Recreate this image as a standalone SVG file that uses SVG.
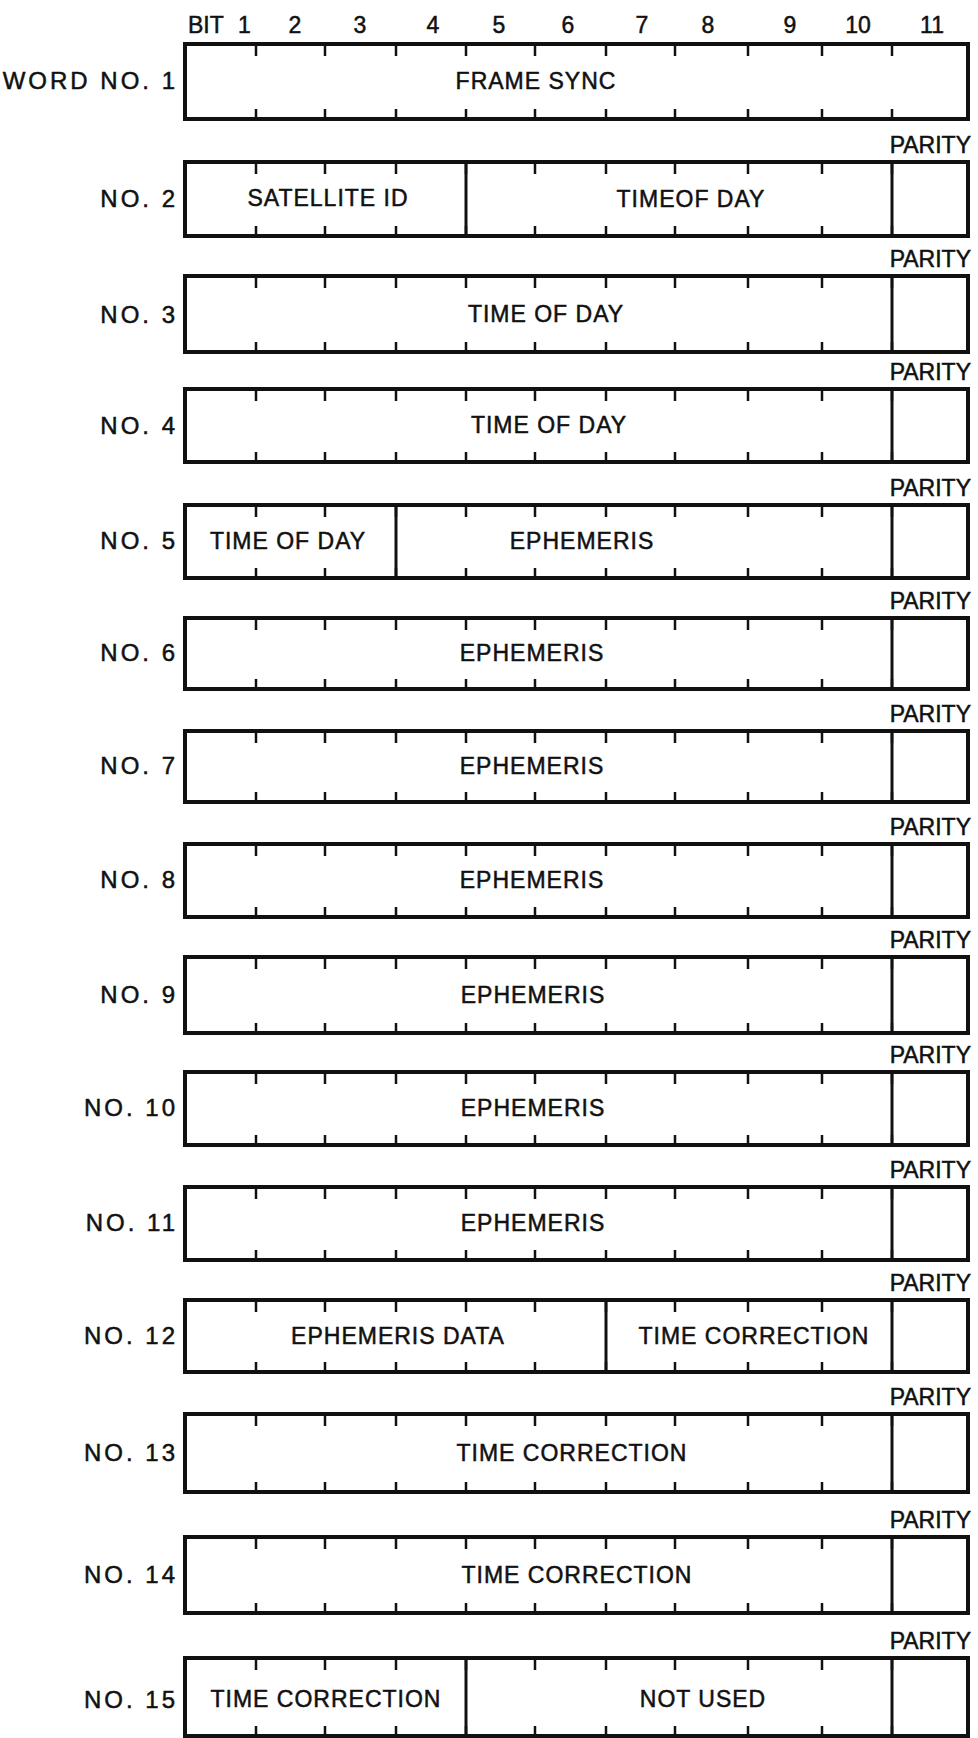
<svg xmlns="http://www.w3.org/2000/svg" width="978" height="1738" viewBox="0 0 978 1738">
<style>
.box{fill:none;stroke:#111;stroke-width:4;stroke-linejoin:miter}
.div{stroke:#111;stroke-width:3}
.tk{fill:none;stroke:#111;stroke-width:2.5}
text{font-family:"Liberation Sans",Arial,sans-serif;fill:#111;stroke:#111;stroke-width:0.5}
.t{font-size:23px;letter-spacing:1px;text-anchor:middle}
.lbl{font-size:24px;letter-spacing:3px;text-anchor:end}
.par{font-size:23px;text-anchor:end}
.bit{font-size:23px;text-anchor:middle}
</style>
<defs>
<path id="tt" class="tk" d="M256 0v12M325 0v12M396 0v12M466 0v12M535 0v12M606 0v12M675 0v12M748 0v12M822 0v12M892 0v12"/>
<path id="bt" class="tk" d="M256 0v-10M325 0v-10M396 0v-10M466 0v-10M535 0v-10M606 0v-10M675 0v-10M748 0v-10M822 0v-10M892 0v-10"/>
</defs>
<rect width="978" height="1738" fill="#fff"/>
<g id="bit-header">
<text class="bit" x="188" y="33" style="text-anchor:start">BIT <tspan x="238">1</tspan></text>
<text class="bit" x="295" y="33">2</text>
<text class="bit" x="360" y="33">3</text>
<text class="bit" x="433" y="33">4</text>
<text class="bit" x="499" y="33">5</text>
<text class="bit" x="568" y="33">6</text>
<text class="bit" x="642" y="33">7</text>
<text class="bit" x="708" y="33">8</text>
<text class="bit" x="790" y="33">9</text>
<text class="bit" x="858" y="33">10</text>
<text class="bit" x="932" y="33">11</text>
</g>
<g id="word1">
<rect class="box" x="185" y="44" width="783" height="75"/>
<use href="#tt" y="44"/><use href="#bt" y="119"/>
<text class="lbl" x="178" y="89">WORD NO. 1</text>
<text class="t" x="536" y="89">FRAME SYNC</text>
</g>
<g id="word2">
<text class="par" x="971" y="153">PARITY</text>
<rect class="box" x="185" y="162" width="783" height="74"/>
<use href="#tt" y="162"/><use href="#bt" y="236"/>
<line class="div" x1="466" y1="162" x2="466" y2="236"/>
<line class="div" x1="892" y1="162" x2="892" y2="236"/>
<text class="lbl" x="178" y="207">NO. 2</text>
<text class="t" x="328" y="206">SATELLITE ID</text>
<text class="t" x="691" y="207">TIMEOF DAY</text>
</g>
<g id="word3">
<text class="par" x="971" y="267">PARITY</text>
<rect class="box" x="185" y="276" width="783" height="76"/>
<use href="#tt" y="276"/><use href="#bt" y="352"/>
<line class="div" x1="892" y1="276" x2="892" y2="352"/>
<text class="lbl" x="178" y="323">NO. 3</text>
<text class="t" x="546" y="322">TIME OF DAY</text>
</g>
<g id="word4">
<text class="par" x="971" y="380">PARITY</text>
<rect class="box" x="185" y="389" width="783" height="73"/>
<use href="#tt" y="389"/><use href="#bt" y="462"/>
<line class="div" x1="892" y1="389" x2="892" y2="462"/>
<text class="lbl" x="178" y="434">NO. 4</text>
<text class="t" x="549" y="433">TIME OF DAY</text>
</g>
<g id="word5">
<text class="par" x="971" y="496">PARITY</text>
<rect class="box" x="185" y="505" width="783" height="73"/>
<use href="#tt" y="505"/><use href="#bt" y="578"/>
<line class="div" x1="396" y1="505" x2="396" y2="578"/>
<line class="div" x1="892" y1="505" x2="892" y2="578"/>
<text class="lbl" x="178" y="549">NO. 5</text>
<text class="t" x="288" y="549">TIME OF DAY</text>
<text class="t" x="582" y="549">EPHEMERIS</text>
</g>
<g id="word6">
<text class="par" x="971" y="609">PARITY</text>
<rect class="box" x="185" y="618" width="783" height="71"/>
<use href="#tt" y="618"/><use href="#bt" y="689"/>
<line class="div" x1="892" y1="618" x2="892" y2="689"/>
<text class="lbl" x="178" y="661">NO. 6</text>
<text class="t" x="532" y="661">EPHEMERIS</text>
</g>
<g id="word7">
<text class="par" x="971" y="722">PARITY</text>
<rect class="box" x="185" y="731" width="783" height="71"/>
<use href="#tt" y="731"/><use href="#bt" y="802"/>
<line class="div" x1="892" y1="731" x2="892" y2="802"/>
<text class="lbl" x="178" y="774">NO. 7</text>
<text class="t" x="532" y="774">EPHEMERIS</text>
</g>
<g id="word8">
<text class="par" x="971" y="835">PARITY</text>
<rect class="box" x="185" y="844" width="783" height="73"/>
<use href="#tt" y="844"/><use href="#bt" y="917"/>
<line class="div" x1="892" y1="844" x2="892" y2="917"/>
<text class="lbl" x="178" y="888">NO. 8</text>
<text class="t" x="532" y="888">EPHEMERIS</text>
</g>
<g id="word9">
<text class="par" x="971" y="948">PARITY</text>
<rect class="box" x="185" y="957" width="783" height="76"/>
<use href="#tt" y="957"/><use href="#bt" y="1033"/>
<line class="div" x1="892" y1="957" x2="892" y2="1033"/>
<text class="lbl" x="178" y="1003">NO. 9</text>
<text class="t" x="533" y="1003">EPHEMERIS</text>
</g>
<g id="word10">
<text class="par" x="971" y="1063">PARITY</text>
<rect class="box" x="185" y="1072" width="783" height="73"/>
<use href="#tt" y="1072"/><use href="#bt" y="1145"/>
<line class="div" x1="892" y1="1072" x2="892" y2="1145"/>
<text class="lbl" x="178" y="1116">NO. 10</text>
<text class="t" x="533" y="1116">EPHEMERIS</text>
</g>
<g id="word11">
<text class="par" x="971" y="1178">PARITY</text>
<rect class="box" x="185" y="1187" width="783" height="73"/>
<use href="#tt" y="1187"/><use href="#bt" y="1260"/>
<line class="div" x1="892" y1="1187" x2="892" y2="1260"/>
<text class="lbl" x="178" y="1231">NO. 11</text>
<text class="t" x="533" y="1231">EPHEMERIS</text>
</g>
<g id="word12">
<text class="par" x="971" y="1291">PARITY</text>
<rect class="box" x="185" y="1300" width="783" height="72"/>
<use href="#tt" y="1300"/><use href="#bt" y="1372"/>
<line class="div" x1="606" y1="1300" x2="606" y2="1372"/>
<line class="div" x1="892" y1="1300" x2="892" y2="1372"/>
<text class="lbl" x="178" y="1344">NO. 12</text>
<text class="t" x="398" y="1344">EPHEMERIS DATA</text>
<text class="t" x="754" y="1344">TIME CORRECTION</text>
</g>
<g id="word13">
<text class="par" x="971" y="1405">PARITY</text>
<rect class="box" x="185" y="1414" width="783" height="78"/>
<use href="#tt" y="1414"/><use href="#bt" y="1492"/>
<line class="div" x1="892" y1="1414" x2="892" y2="1492"/>
<text class="lbl" x="178" y="1461">NO. 13</text>
<text class="t" x="572" y="1461">TIME CORRECTION</text>
</g>
<g id="word14">
<text class="par" x="971" y="1528">PARITY</text>
<rect class="box" x="185" y="1537" width="783" height="76"/>
<use href="#tt" y="1537"/><use href="#bt" y="1613"/>
<line class="div" x1="892" y1="1537" x2="892" y2="1613"/>
<text class="lbl" x="178" y="1583">NO. 14</text>
<text class="t" x="577" y="1583">TIME CORRECTION</text>
</g>
<g id="word15">
<text class="par" x="971" y="1649">PARITY</text>
<rect class="box" x="185" y="1658" width="783" height="78"/>
<use href="#tt" y="1658"/><use href="#bt" y="1736"/>
<line class="div" x1="466" y1="1658" x2="466" y2="1736"/>
<line class="div" x1="892" y1="1658" x2="892" y2="1736"/>
<text class="lbl" x="178" y="1708">NO. 15</text>
<text class="t" x="326" y="1707">TIME CORRECTION</text>
<text class="t" x="703" y="1707">NOT USED</text>
</g>
</svg>
